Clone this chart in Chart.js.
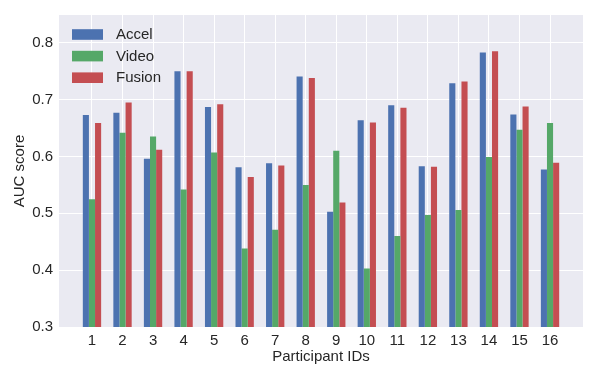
<!DOCTYPE html>
<html>
<head>
<meta charset="utf-8">
<script src="https://cdn.jsdelivr.net/npm/chart.js@4/dist/chart.umd.min.js"></script>
<style>
    html, body { margin: 0; padding: 0; background: #fff; }
    #wrap { width: 592px; height: 366px; }
</style>
</head>
<body>
<div id="wrap"><canvas id="c"></canvas></div>
<script>
// participants on the x axis
const participants = [1, 2, 3, 4, 5, 6, 7, 8, 9, 10, 11, 12, 13, 14, 15, 16];
const yTicks = [0.3, 0.4, 0.5, 0.6, 0.7, 0.8];

// AUC per participant
const accel = [0.673, 0.677, 0.596, 0.750, 0.687, 0.581, 0.588, 0.741, 0.503, 0.664, 0.690, 0.583, 0.729, 0.783, 0.674, 0.577];
const video = [0.525, 0.642, 0.635, 0.542, 0.607, 0.438, 0.471, 0.550, 0.610, 0.403, 0.460, 0.497, 0.506, 0.599, 0.647, 0.659];
const fusion = [0.659, 0.695, 0.612, 0.750, 0.692, 0.564, 0.584, 0.738, 0.519, 0.660, 0.686, 0.582, 0.732, 0.785, 0.688, 0.589];

const FONT = "'Liberation Sans', Arial, sans-serif";
const FSIZE = 15;
const TXT = '#262626';

function pts(values) {
    return values.map((v, i) => ({ x: participants[i], y: v }))
}

// grey plot background like seaborn darkgrid
const bgPlugin = {
    id: 'bg',
    beforeDraw(chart) {
        const a = chart.chartArea;
        const ctx = chart.ctx;
        ctx.save();
        ctx.fillStyle = '#EAEAF2';
        ctx.fillRect(a.left, a.top, a.right - a.left, a.bottom - a.top);
        ctx.restore();
    }
}

// legend inside the plot, upper left
const innerLegend = {
    id: 'innerLegend',
    afterDraw(chart) {
        const a = chart.chartArea;
        const ctx = chart.ctx;
        ctx.save();
        ctx.font = FSIZE + 'px ' + FONT;
        ctx.textBaseline = 'middle';
        chart.data.datasets.forEach((ds, i) => {
            const cy = a.top + 19.5 + i * 21.6;
            ctx.fillStyle = ds.backgroundColor;
            ctx.fillRect(a.left + 13, cy - 5.3, 31, 10.6);
            ctx.fillStyle = TXT;
            ctx.fillText(ds.label, a.left + 57, cy + 0.5);
        });
        ctx.restore();
    }
}

new Chart(document.getElementById('c'), {
    type: 'bar',
    data: {
        datasets: [
            { label: 'Accel', data: pts(accel), backgroundColor: '#4C72B0' },
            { label: 'Video', data: pts(video), backgroundColor: '#55A868' },
            { label: 'Fusion', data: pts(fusion), backgroundColor: '#C44E52' }
        ]
    },
    options: {
        responsive: true,
        maintainAspectRatio: false,
        animation: false,
        layout: { padding: { top: 6, right: 9, left: 0, bottom: 0 } },
        datasets: { bar: { categoryPercentage: 0.6, barPercentage: 1.0, borderWidth: 0 } },
        plugins: {
            legend: { display: false },
            tooltip: { enabled: false }
        },
        scales: {
            x: {
                type: 'linear',
                offset: false,
                min: -0.08,
                max: 17.08,
                afterBuildTicks(scale) {
                    scale.ticks = participants.map(v => ({ value: v }))
                },
                afterFit(scale) { scale.height = 39 },
                border: { display: false },
                grid: { color: '#ffffff', lineWidth: 1, drawTicks: false, offset: false },
                ticks: {
                    padding: 5,
                    color: TXT,
                    font: { family: FONT, size: FSIZE },
                    callback: v => String(v)
                },
                title: {
                    display: true,
                    text: 'Participant IDs',
                    color: TXT,
                    font: { family: FONT, size: FSIZE },
                    padding: { top: 0, bottom: 0 }
                }
            },
            y: {
                min: 0.3,
                max: 0.849,
                afterBuildTicks(scale) {
                    scale.ticks = yTicks.map(v => ({ value: v }))
                },
                afterFit(scale) { scale.width = 59 },
                border: { display: false },
                grid: { color: '#ffffff', lineWidth: 1, drawTicks: false },
                ticks: {
                    padding: 6,
                    color: TXT,
                    font: { family: FONT, size: FSIZE },
                    callback: v => v.toFixed(1)
                },
                title: {
                    display: true,
                    text: 'AUC score',
                    color: TXT,
                    font: { family: FONT, size: FSIZE },
                    padding: { top: 11, bottom: 11 }
                }
            }
        }
    },
    plugins: [bgPlugin, innerLegend]
})
</script>
</body>
</html>
